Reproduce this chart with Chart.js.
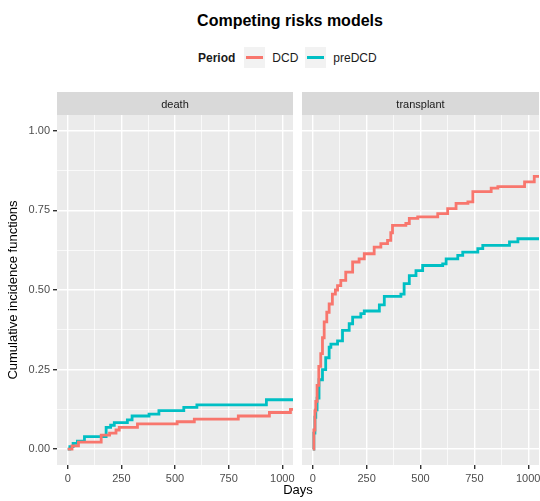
<!DOCTYPE html>
<html>
<head>
<meta charset="utf-8">
<script src="https://cdn.jsdelivr.net/npm/chart.js@4/dist/chart.umd.min.js"></script>
<style>
  body { margin: 0; background: #fff; font-family: "Liberation Sans", Arial, sans-serif; }
  #page { position: relative; width: 540px; height: 501px; overflow: hidden; }
  #title { position: absolute; left: 0; top: 12px; width: 580px; text-align: center; font-weight: bold; font-size: 16px; color: #000; }
  #legend { position: absolute; left: 198px; top: 47px; height: 21px; display: flex; align-items: center; font-size: 12px; color: #1a1a1a; }
  #legend .key { width: 21px; height: 21px; background: #f2f2f2; position: relative; }
  #legend .key span { position: absolute; left: 2px; right: 2px; top: 9px; height: 3px; }
  #days { position: absolute; left: 57px; width: 482px; top: 482px; text-align: center; font-size: 13px; color: #000; }
  .panel { position: absolute; top: 92px; height: 409px; }
</style>
</head>
<body>
<div id="page">
  <div id="title">Competing risks models</div>
  <div id="legend">
    <b style="margin-right:9px">Period</b>
    <div class="key"><span style="background:#F8766D"></span></div>
    <div style="margin:0 7px 0 7px">DCD</div>
    <div class="key"><span style="background:#00BFC4"></span></div>
    <div style="margin-left:7px">preDCD</div>
  </div>
  <div class="panel" style="left:302px;width:238px"><canvas id="transplantChart"></canvas></div>
  <div class="panel" style="left:0;width:305px"><canvas id="deathChart"></canvas></div>
  <div id="days">Days</div>
</div>
<script>
// Step points (day, cumulative incidence)
const deathDCDDays = [0, 20, 50, 156, 195, 225, 240, 325, 510, 590, 795, 940, 1038, 1050];
const deathDCDCif  = [0, 0.01, 0.022, 0.044, 0.05, 0.06, 0.068, 0.079, 0.086, 0.094, 0.104, 0.115, 0.125, 0.125];

const deathPreDays = [0, 10, 25, 45, 78, 179, 200, 217, 278, 300, 379, 425, 541, 602, 926, 1050];
const deathPreCif  = [0, 0.008, 0.018, 0.025, 0.039, 0.068, 0.075, 0.083, 0.092, 0.104, 0.11, 0.121, 0.131, 0.139, 0.155, 0.155];

const transDCDDays = [0, 5, 10, 14, 20, 28, 37, 45, 53, 65, 76, 91, 105, 115, 130, 153, 185, 215, 239, 285, 316, 347, 362, 370, 432, 448, 487, 580, 626, 665, 720, 743, 828, 859, 983, 1028, 1050];
const transDCDCif  = [0, 0.06, 0.12, 0.15, 0.2, 0.26, 0.3, 0.35, 0.4, 0.43, 0.456, 0.487, 0.5, 0.514, 0.53, 0.556, 0.588, 0.598, 0.614, 0.635, 0.646, 0.656, 0.68, 0.703, 0.709, 0.725, 0.73, 0.74, 0.756, 0.772, 0.777, 0.809, 0.82, 0.825, 0.84, 0.857, 0.857];

const transPreDays = [0, 5, 10, 14, 20, 29, 45, 60, 76, 84, 115, 138, 169, 185, 223, 239, 309, 332, 409, 424, 448, 479, 510, 603, 619, 673, 696, 766, 789, 913, 952, 1050];
const transPreCif  = [0, 0.05, 0.1, 0.123, 0.16, 0.218, 0.25, 0.287, 0.32, 0.33, 0.34, 0.373, 0.394, 0.415, 0.426, 0.434, 0.453, 0.48, 0.487, 0.52, 0.545, 0.561, 0.577, 0.582, 0.598, 0.609, 0.619, 0.63, 0.64, 0.651, 0.661, 0.661];

const xTicks = [0, 125, 250, 375, 500, 625, 750, 875, 1000];
const yTicks = [0, 0.125, 0.25, 0.375, 0.5, 0.625, 0.75, 0.875, 1];

const DCD_COLOR = '#F8766D';
const PRE_COLOR = '#00BFC4';

function toPoints(days, cif) {
    return days.map((d, i) => ({ x: d, y: cif[i] }));
}

const xMajor = v => v % 250 === 0;
const yMajor = v => Math.abs(v / 0.25 - Math.round(v / 0.25)) < 1e-6;

// panel background + facet strip
const panelPlugin = {
    id: 'panel',
    beforeDraw(chart, args, opts) {
        const { ctx, chartArea } = chart;
        ctx.save();
        ctx.fillStyle = '#ebebeb';
        ctx.fillRect(chartArea.left, chartArea.top, chartArea.right - chartArea.left, chartArea.bottom - chartArea.top);
        ctx.fillStyle = '#d9d9d9';
        ctx.fillRect(chartArea.left, 0, chartArea.right - chartArea.left, chartArea.top);
        ctx.fillStyle = '#1a1a1a';
        ctx.font = '11px "Liberation Sans", Arial, sans-serif';
        ctx.textAlign = 'center';
        ctx.textBaseline = 'middle';
        ctx.fillText(opts.label, (chartArea.left + chartArea.right) / 2, chartArea.top / 2 + 1);
        ctx.restore();
    }
};

function makeChart(id, label, dcd, pre, showY, padding) {
    const tickFont = { family: '"Liberation Sans", Arial, sans-serif', size: 11 };
    return new Chart(document.getElementById(id), {
        type: 'line',
        data: {
            datasets: [
                { label: 'DCD', data: dcd, borderColor: DCD_COLOR },
                { label: 'preDCD', data: pre, borderColor: PRE_COLOR }
            ]
        },
        options: {
            responsive: true,
            maintainAspectRatio: false,
            animation: false,
            layout: { padding: padding },
            elements: {
                point: { radius: 0 },
                line: { borderWidth: 2.8, stepped: 'before', fill: false }
            },
            plugins: {
                legend: { display: false },
                tooltip: { enabled: false },
                panel: { label: label }
            },
            scales: {
                x: {
                    type: 'linear',
                    min: -50,
                    max: 1050,
                    afterBuildTicks: s => { s.ticks = xTicks.map(v => ({ value: v })); },
                    afterFit: s => { s.height = 36; s.paddingLeft = 0; s.paddingRight = 0; },
                    border: { display: false },
                    grid: {
                        color: '#ffffff',
                        lineWidth: c => xMajor(c.tick.value) ? 1.4 : 0.7,
                        tickLength: 4,
                        tickColor: c => xMajor(c.tick.value) ? '#333333' : 'rgba(0,0,0,0)'
                    },
                    ticks: {
                        autoSkip: false,
                        maxRotation: 0,
                        padding: 3,
                        color: '#4d4d4d',
                        font: tickFont,
                        callback: v => xMajor(v) ? String(v) : ''
                    }
                },
                y: {
                    min: -0.05,
                    max: 1.05,
                    afterBuildTicks: s => { s.ticks = yTicks.map(v => ({ value: v })); },
                    afterFit: s => { s.width = showY ? 57 : 0; s.paddingTop = 0; s.paddingBottom = 0; },
                    border: { display: false },
                    grid: {
                        color: '#ffffff',
                        lineWidth: c => yMajor(c.tick.value) ? 1.4 : 0.7,
                        drawTicks: showY,
                        tickLength: 4,
                        tickColor: c => yMajor(c.tick.value) ? '#333333' : 'rgba(0,0,0,0)'
                    },
                    ticks: {
                        display: showY,
                        autoSkip: false,
                        padding: 3,
                        color: '#4d4d4d',
                        font: tickFont,
                        callback: v => yMajor(v) ? v.toFixed(2) : ''
                    },
                    title: {
                        display: showY,
                        text: 'Cumulative incidence functions',
                        color: '#000',
                        font: { family: '"Liberation Sans", Arial, sans-serif', size: 13 },
                        padding: { top: 6, bottom: 0 }
                    }
                }
            }
        },
        plugins: [panelPlugin]
    });
}

makeChart('deathChart', 'death',
    toPoints(deathDCDDays, deathDCDCif), toPoints(deathPreDays, deathPreCif),
    true, { top: 23, right: 12, left: 0, bottom: 0 });

makeChart('transplantChart', 'transplant',
    toPoints(transDCDDays, transDCDCif), toPoints(transPreDays, transPreCif),
    false, { top: 23, right: 1, left: 0, bottom: 0 });
</script>
</body>
</html>
